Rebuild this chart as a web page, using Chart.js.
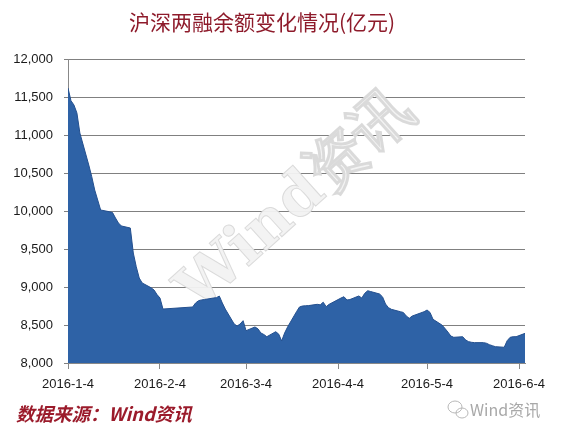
<!DOCTYPE html>
<html>
<head>
<meta charset="utf-8">
<script src="https://cdn.jsdelivr.net/npm/chart.js@4"></script>
<style>
  body { margin: 0; background: #fff; }
</style>
</head>
<body>
<canvas id="myChart" width="566" height="434"></canvas>
<script>
// 交易日（2016年）
var dates = [
  '2016-01-04','2016-01-05','2016-01-06','2016-01-07','2016-01-08',
  '2016-01-11','2016-01-12','2016-01-13','2016-01-14','2016-01-15',
  '2016-01-18','2016-01-19','2016-01-20','2016-01-21','2016-01-22',
  '2016-01-25','2016-01-26','2016-01-27','2016-01-28','2016-01-29',
  '2016-02-01','2016-02-02','2016-02-03','2016-02-04','2016-02-05',
  '2016-02-15','2016-02-16','2016-02-17','2016-02-18','2016-02-19',
  '2016-02-22','2016-02-23','2016-02-24','2016-02-25','2016-02-26',
  '2016-02-29','2016-03-01','2016-03-02','2016-03-03','2016-03-04',
  '2016-03-07','2016-03-08','2016-03-09','2016-03-10','2016-03-11',
  '2016-03-14','2016-03-15','2016-03-16','2016-03-17','2016-03-18',
  '2016-03-21','2016-03-22','2016-03-23','2016-03-24','2016-03-25',
  '2016-03-28','2016-03-29','2016-03-30','2016-03-31','2016-04-01',
  '2016-04-05','2016-04-06','2016-04-07','2016-04-08',
  '2016-04-11','2016-04-12','2016-04-13','2016-04-14','2016-04-15',
  '2016-04-18','2016-04-19','2016-04-20','2016-04-21','2016-04-22',
  '2016-04-25','2016-04-26','2016-04-27','2016-04-28','2016-04-29',
  '2016-05-03','2016-05-04','2016-05-05','2016-05-06',
  '2016-05-09','2016-05-10','2016-05-11','2016-05-12','2016-05-13',
  '2016-05-16','2016-05-17','2016-05-18','2016-05-19','2016-05-20',
  '2016-05-23','2016-05-24','2016-05-25','2016-05-26','2016-05-27',
  '2016-05-30','2016-05-31','2016-06-01','2016-06-02','2016-06-03',
  '2016-06-06'
];

// 两融余额（亿元）
var balance = [
  11618, 11452, 11395, 11290, 11026,
  10605, 10452, 10276, 10145, 10013,
  9990, 9980, 9908, 9842, 9803,
  9776, 9447, 9267, 9118, 9053,
  8990, 8960, 8900, 8855, 8710,
  8737, 8790, 8820, 8830, 8835,
  8855, 8860, 8880, 8790, 8710,
  8513, 8487, 8513, 8557, 8425,
  8474, 8450, 8395, 8375, 8346,
  8412, 8380, 8290, 8395, 8474,
  8675, 8737, 8750, 8753, 8755,
  8772, 8765, 8800, 8741, 8772,
  8855, 8872, 8829, 8835,
  8882, 8855, 8917, 8951, 8940,
  8908, 8870, 8776, 8728, 8706,
  8675, 8665, 8618, 8588, 8618,
  8675, 8697, 8665, 8575,
  8500, 8456, 8408, 8355, 8338,
  8346, 8303, 8281, 8272, 8268,
  8268, 8260, 8241, 8228, 8215,
  8207, 8294, 8338, 8346, 8346,
  8390
];

// X轴刻度
var tickDates = ['2016-01-04','2016-02-04','2016-03-04','2016-04-04','2016-05-04','2016-06-04'];
var tickLabels = ['2016-1-4','2016-2-4','2016-3-4','2016-4-4','2016-5-4','2016-6-4'];
var lastDate = '2016-06-06';

// 日期 -> 距起始日的天数
function dayOf(s) {
  var p = s.split('-');
  return (Date.UTC(+p[0], +p[1] - 1, +p[2]) - Date.UTC(2016, 0, 4)) / 86400000;
}

var points = dates.map(function(d, i) { return { x: dayOf(d), y: balance[i] }; });
var tickDays = tickDates.map(dayOf);

// 文字・水印
var textPlugin = {
  id: 'texts',
  beforeDatasetsDraw: function(chart) {
    var ctx = chart.ctx;
    ctx.save();
    ctx.translate(297, 202);
    ctx.rotate(-42 * Math.PI / 180);
    ctx.font = 'bold 60px "DejaVu Serif"';
    ctx.textAlign = 'center';
    ctx.textBaseline = 'middle';
    ctx.fillStyle = 'rgba(242,242,242,0.95)';
    ctx.strokeStyle = 'rgba(215,215,215,0.9)';
    ctx.lineWidth = 1;
    ctx.fillText('Wind资讯', 0, 0);
    ctx.strokeText('Wind资讯', 0, 0);
    ctx.restore();
  },
  afterDraw: function(chart) {
    var ctx = chart.ctx;
    ctx.save();
    // 标题
    ctx.font = '21px "Noto Sans CJK SC"';
    ctx.fillStyle = '#8e1b2b';
    ctx.textAlign = 'center';
    ctx.textBaseline = 'middle';
    ctx.fillText('沪深两融余额变化情况(亿元)', 262, 22);
    // 数据来源
    ctx.font = 'italic bold 18.5px "Noto Sans CJK SC"';
    ctx.fillStyle = '#9b1b2b';
    ctx.textAlign = 'left';
    ctx.fillText('数据来源：Wind资讯', 16, 414);
    // 右下角
    ctx.font = '16px "Noto Sans CJK SC"';
    ctx.fillStyle = '#a8a8a8';
    ctx.fillText('Wind资讯', 470, 410);
    ctx.strokeStyle = '#b8b8b8';
    ctx.lineWidth = 1;
    ctx.beginPath();
    ctx.ellipse(455, 407, 7, 6, 0, 0, Math.PI * 2);
    ctx.stroke();
    ctx.beginPath();
    ctx.ellipse(462, 413, 6, 5, 0, 0, Math.PI * 2);
    ctx.stroke();
    ctx.restore();
  }
};

var ctx = document.getElementById('myChart').getContext('2d');
var myChart = new Chart(ctx, {
  type: 'line',
  data: {
    datasets: [{
      label: '两融余额',
      data: points,
      fill: 'start',
      backgroundColor: '#2e62a6',
      borderColor: '#234f8e',
      borderWidth: 1,
      pointRadius: 0,
      tension: 0
    }]
  },
  options: {
    responsive: false,
    animation: false,
    layout: { padding: { top: 59, right: 41, left: 0, bottom: 0 } },
    plugins: {
      legend: { display: false },
      tooltip: { enabled: false }
    },
    scales: {
      x: {
        type: 'linear',
        min: 0,
        max: dayOf(lastDate),
        afterFit: function(s) { s.height = 71; },
        afterBuildTicks: function(s) {
          s.ticks = tickDays.map(function(v) { return { value: v }; });
        },
        ticks: {
          autoSkip: false,
          maxRotation: 0,
          padding: 8,
          color: '#1a1a1a',
          font: { family: '"Liberation Sans", Arial', size: 13 },
          callback: function(v) { return tickLabels[tickDays.indexOf(v)]; }
        },
        grid: { drawOnChartArea: false, tickLength: 6, color: '#888' },
        border: { color: '#888' }
      },
      y: {
        min: 8000,
        max: 12000,
        afterFit: function(s) { s.width = 68; },
        ticks: {
          stepSize: 500,
          padding: 11,
          color: '#1a1a1a',
          font: { family: '"Liberation Sans", Arial', size: 13 },
          callback: function(v) { return v.toLocaleString('en-US'); }
        },
        grid: { color: '#808080', tickLength: 4 },
        border: { color: '#888' }
      }
    }
  },
  plugins: [textPlugin]
});
</script>
</body>
</html>
